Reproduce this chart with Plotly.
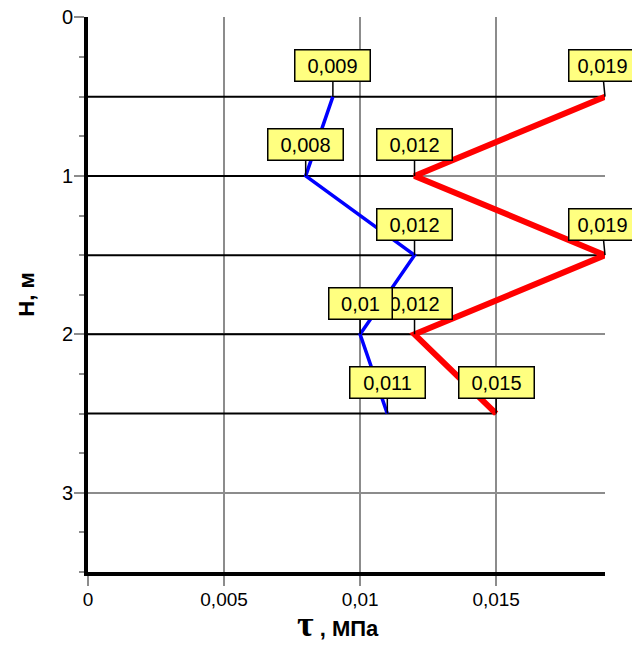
import plotly.graph_objects as go

depth = [0.5, 1.0, 1.5, 2.0, 2.5]
tau_blue = [0.009, 0.008, 0.012, 0.010, 0.011]
tau_red = [0.019, 0.012, 0.019, 0.012, 0.015]
blue_labels = ["0,009", "0,008", "0,012", "0,01", "0,011"]
red_labels = ["0,019", "0,012", "0,019", "0,012", "0,015"]
x_tickvals = [0, 0.005, 0.01, 0.015]
x_ticktext = ["0", "0,005", "0,01", "0,015"]
y_tickvals = [0, 1, 2, 3]
y_ticktext = ["0", "1", "2", "3"]

fig = go.Figure()

# horizontal drop lines from the axis to the farthest point of each level
hx, hy = [], []
for d, b, r in zip(depth, tau_blue, tau_red):
    hx += [0, max(b, r), None]
    hy += [d, d, None]
fig.add_trace(go.Scatter(x=hx, y=hy, mode="lines",
                         line=dict(color="black", width=2), hoverinfo="skip"))

fig.add_trace(go.Scatter(x=tau_blue, y=depth, mode="lines",
                         line=dict(color="#0000FF", width=3.5)))
fig.add_trace(go.Scatter(x=tau_red, y=depth, mode="lines",
                         line=dict(color="#FF0000", width=6), cliponaxis=False))

font_lab = dict(family="Liberation Sans, Arial", size=20, color="black")

def add_label(x, y, text, ax=0, width=70):
    fig.add_annotation(x=x, y=y, xref="x", yref="y", text=text,
                       showarrow=True, arrowhead=0, arrowwidth=1.5,
                       arrowcolor="black", ax=ax, ay=-31,
                       bgcolor="#FFFF80", bordercolor="black", borderwidth=1.5,
                       borderpad=2, font=font_lab, width=width, height=26)

for d, v, t in zip(depth, tau_red, red_labels):
    if v >= 0.019:
        add_label(v, d, t, ax=-3, width=62)
    else:
        add_label(v, d, t)
for d, v, t in zip(depth, tau_blue, blue_labels):
    add_label(v, d, t, width=58 if t == "0,01" else 70)

fig.add_annotation(x=0.0092, y=-0.094, xref="x", yref="paper",
                   text="<b><span style='font-family:Liberation Serif; font-size:36px'>τ</span> , МПа</b>",
                   showarrow=False, xanchor="center", yanchor="middle",
                   font=dict(family="Liberation Sans, Arial", size=22, color="black"))

fig.update_layout(
    template="none",
    width=632, height=643,
    margin=dict(l=80, r=35, t=9, b=79, autoexpand=False),
    paper_bgcolor="white", plot_bgcolor="white",
    showlegend=False,
    separators=", ",
    font=dict(family="Liberation Sans, Arial", size=20, color="black"),
    xaxis=dict(range=[0, 0.019], tickvals=x_tickvals, ticktext=x_ticktext,
               automargin=False, ticklabelstandoff=-3,
               showgrid=True, gridcolor="#8c8c8c", gridwidth=1.5,
               zeroline=False, showline=True, linecolor="black", linewidth=4,
               ticks="outside", ticklen=10, tickcolor="#8c8c8c", tickwidth=1.5,
               tickfont=dict(size=19)),
    yaxis=dict(range=[3.5, -0.003], tickvals=y_tickvals, ticktext=y_ticktext,
               automargin=False, ticklabeloverflow="allow", ticklabelstandoff=-3,
               showgrid=True, gridcolor="#8c8c8c", gridwidth=1.5,
               zeroline=False, showline=True, linecolor="black", linewidth=4,
               ticks="outside", ticklen=10, tickcolor="#8c8c8c", tickwidth=1.5,
               tickfont=dict(size=20),
               minor=dict(dtick=0.25, ticks="outside", ticklen=5,
                          tickcolor="#8c8c8c", tickwidth=1.5, showgrid=False),
               title=dict(text="<b>H, м</b>", font=dict(size=22), standoff=22)),
)

fig.write_html("out.html")
